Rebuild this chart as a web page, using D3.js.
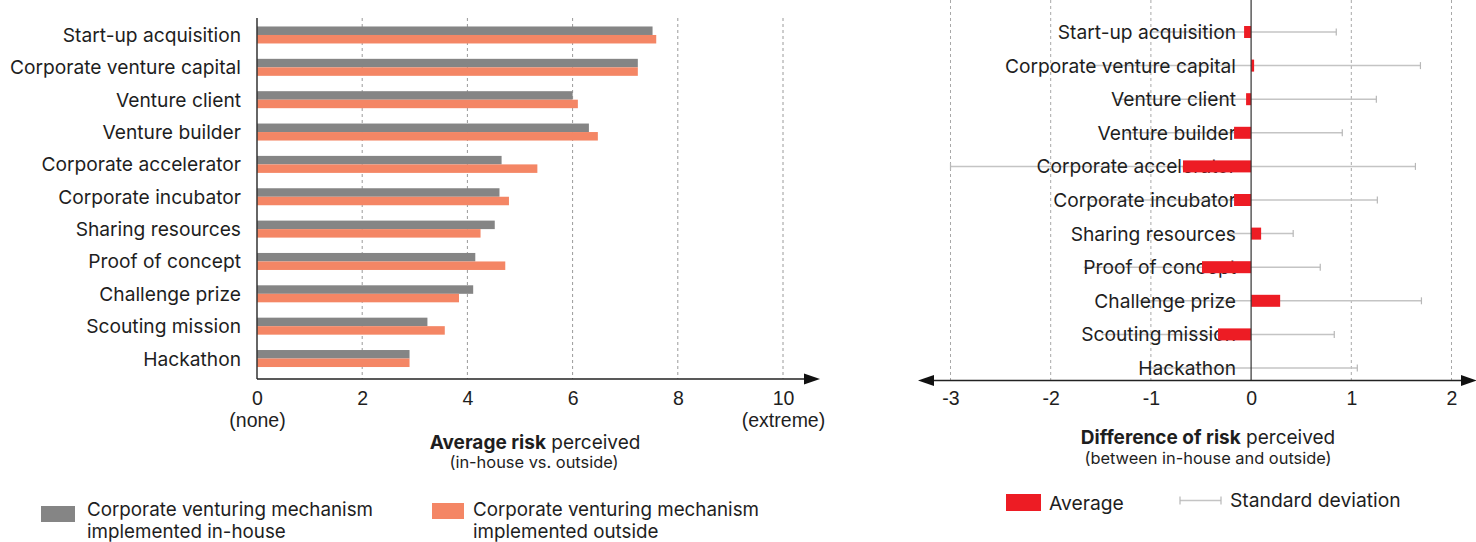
<!DOCTYPE html>
<html>
<head>
<meta charset="utf-8">
<script src="https://cdn.jsdelivr.net/npm/d3@7/dist/d3.min.js"></script>
<style>
  html, body { margin: 0; padding: 0; background: #fff; }
  svg { display: block; font-family: Inter, "Noto Sans", sans-serif; }
</style>
</head>
<body>
<svg id="chart" width="1476" height="542"></svg>
<script>
// ---------- DATA ----------
const categories = [
  "Start-up acquisition", "Corporate venture capital", "Venture client", "Venture builder",
  "Corporate accelerator", "Corporate incubator", "Sharing resources", "Proof of concept",
  "Challenge prize", "Scouting mission", "Hackathon"
];
const inHouse = [7.52, 7.24, 6.00, 6.31, 4.65, 4.61, 4.52, 4.15, 4.11, 3.24, 2.90];
const outside = [7.59, 7.24, 6.10, 6.48, 5.33, 4.79, 4.25, 4.72, 3.84, 3.57, 2.90];
const diffMean = [-0.07, 0.03, -0.05, -0.17, -0.68, -0.17, 0.10, -0.49, 0.29, -0.33, 0.00];
const diffSD = [0.92, 1.66, 1.30, 1.08, 2.32, 1.43, 0.32, 1.18, 1.41, 1.16, 1.06];
const leftTicks = [0, 2, 4, 6, 8, 10];
const leftTickSub = {0: "(none)", 10: "(extreme)"};
const rightTicks = [-3, -2, -1, 0, 1, 2];
const seriesNames = ["Corporate venturing mechanism|implemented in-house", "Corporate venturing mechanism|implemented outside"];
const diffLegend = ["Average", "Standard deviation"];

// ---------- STYLE ----------
const GRAY = "#858585", ORANGE = "#F48665", RED = "#ED1C24", TXT = "#1e1e1e";
const FS = 19.2, FT = 19.5, FLEG = 19.3, FTITLE = 19, FSUB = 16.4;
const svg = d3.select("#chart");

// ---------- LEFT CHART ----------
const xL = d3.scaleLinear().domain([0, 10]).range([257, 783]);
const yL = d3.scaleBand().domain(categories).range([18.8, 374.7]);
const barH = 8.5;
const axisYL = 379;

const gL = svg.append("g");
gL.selectAll("line.grid").data(leftTicks.filter(d => d > 0)).join("line")
  .attr("x1", d => xL(d)).attr("x2", d => xL(d))
  .attr("y1", 18).attr("y2", axisYL)
  .attr("stroke", "#9a9a9a").attr("stroke-width", 1).attr("stroke-dasharray", "3,3");

const rowsL = categories.map((c, i) => ({c, a: inHouse[i], b: outside[i]}));
gL.selectAll("rect.in").data(rowsL).join("rect")
  .attr("x", xL(0)).attr("y", d => yL(d.c) + yL.bandwidth() / 2 - barH)
  .attr("width", d => xL(d.a) - xL(0)).attr("height", barH)
  .attr("fill", GRAY);
gL.selectAll("rect.out").data(rowsL).join("rect")
  .attr("x", xL(0)).attr("y", d => yL(d.c) + yL.bandwidth() / 2)
  .attr("width", d => xL(d.b) - xL(0)).attr("height", barH)
  .attr("fill", ORANGE);

gL.append("line").attr("x1", xL(0)).attr("x2", xL(0)).attr("y1", 18).attr("y2", axisYL)
  .attr("stroke", "#333").attr("stroke-width", 1.5);

gL.selectAll("text.cat").data(categories).join("text")
  .attr("x", 241).attr("y", d => yL(d) + yL.bandwidth() / 2)
  .attr("text-anchor", "end").attr("dominant-baseline", "central")
  .attr("font-size", FS).attr("fill", TXT).text(d => d);

gL.append("line").attr("x1", xL(0)).attr("x2", 810).attr("y1", axisYL).attr("y2", axisYL)
  .attr("stroke", "#222").attr("stroke-width", 1.5);
gL.append("path").attr("d", `M804,${axisYL - 5.5} L820,${axisYL} L804,${axisYL + 5.5} Z`).attr("fill", "#111");

const axL = d3.axisBottom(xL).tickValues(leftTicks).tickSize(0).tickPadding(0).tickFormat(d3.format("d"));
const axLg = gL.append("g").attr("transform", `translate(0,${axisYL})`).call(axL);
axLg.select(".domain").remove();
axLg.selectAll("text").attr("font-size", FT).attr("fill", TXT).attr("font-family", null)
  .attr("dy", null).attr("y", 19).attr("dominant-baseline", "central");
axLg.selectAll(".tick").filter(d => leftTickSub[d]).append("text")
  .attr("y", 41).attr("text-anchor", "middle").attr("dominant-baseline", "central")
  .attr("font-size", FT).attr("fill", TXT).text(d => leftTickSub[d]);

const tL = gL.append("text").attr("x", 535).attr("y", 442).attr("text-anchor", "middle")
  .attr("dominant-baseline", "central").attr("font-size", FTITLE).attr("fill", TXT);
tL.append("tspan").attr("font-weight", 700).text("Average risk");
tL.append("tspan").text(" perceived");
gL.append("text").attr("x", 534).attr("y", 461.5).attr("text-anchor", "middle")
  .attr("dominant-baseline", "central").attr("font-size", FSUB).attr("fill", TXT).text("(in-house vs. outside)");

const legL = [{x: 41, y: 506, w: 34, h: 16, col: GRAY, tx: 87}, {x: 432, y: 503, w: 32, h: 16, col: ORANGE, tx: 473}];
legL.forEach((l, i) => {
  gL.append("rect").attr("x", l.x).attr("y", l.y).attr("width", l.w).attr("height", l.h).attr("fill", l.col);
  const lines = seriesNames[i].split("|");
  lines.forEach((s, j) => {
    gL.append("text").attr("x", l.tx).attr("y", 509 + j * 22.5).attr("dominant-baseline", "central")
      .attr("font-size", 18.8).attr("fill", TXT).text(s);
  });
});

// ---------- RIGHT CHART ----------
const xR = d3.scaleLinear().domain([-3, 2]).range([950.5, 1451.5]);
const yR = d3.scaleBand().domain(categories).range([15.2, 384.8]);
const axisYR = 380.5;
const rBarH = 12;
const gR = svg.append("g");

gR.selectAll("line.grid").data(rightTicks.filter(d => d !== 0)).join("line")
  .attr("x1", d => xR(d)).attr("x2", d => xR(d))
  .attr("y1", 0).attr("y2", axisYR)
  .attr("stroke", "#a8a8a8").attr("stroke-width", 1).attr("stroke-dasharray", "3,3");

const rowsR = categories.map((c, i) => ({c, m: diffMean[i], sd: diffSD[i]}));
const cy = d => yR(d.c) + yR.bandwidth() / 2;
gR.selectAll("line.sd").data(rowsR).join("line")
  .attr("x1", d => xR(d.m - d.sd)).attr("x2", d => xR(d.m + d.sd))
  .attr("y1", cy).attr("y2", cy).attr("stroke", "#c4c4c4").attr("stroke-width", 1.5);
gR.selectAll("line.capR").data(rowsR).join("line")
  .attr("x1", d => xR(d.m + d.sd)).attr("x2", d => xR(d.m + d.sd))
  .attr("y1", d => cy(d) - 3.5).attr("y2", d => cy(d) + 3.5).attr("stroke", "#b8b8b8").attr("stroke-width", 1.2);
gR.selectAll("line.capL").data(rowsR.filter(d => d.m - d.sd <= -2.9)).join("line")
  .attr("x1", d => xR(d.m - d.sd)).attr("x2", d => xR(d.m - d.sd))
  .attr("y1", d => cy(d) - 3.5).attr("y2", d => cy(d) + 3.5).attr("stroke", "#b8b8b8").attr("stroke-width", 1.2);

gR.selectAll("text.cat").data(categories).join("text")
  .attr("x", 1236).attr("y", d => yR(d) + yR.bandwidth() / 2)
  .attr("text-anchor", "end").attr("dominant-baseline", "central")
  .attr("font-size", FS).attr("fill", TXT).text(d => d);

gR.selectAll("rect.mean").data(rowsR).join("rect")
  .attr("x", d => Math.min(xR(0), xR(d.m))).attr("y", d => cy(d) - rBarH / 2)
  .attr("width", d => Math.abs(xR(d.m) - xR(0))).attr("height", rBarH)
  .attr("fill", RED);

gR.append("line").attr("x1", xR(0)).attr("x2", xR(0)).attr("y1", 0).attr("y2", axisYR)
  .attr("stroke", "#333").attr("stroke-width", 1.2);

gR.append("line").attr("x1", 928).attr("x2", 1468).attr("y1", axisYR).attr("y2", axisYR)
  .attr("stroke", "#222").attr("stroke-width", 1.5);
gR.append("path").attr("d", `M934,${axisYR - 5.5} L918,${axisYR} L934,${axisYR + 5.5} Z`).attr("fill", "#111");
gR.append("path").attr("d", `M1461,${axisYR - 5.5} L1477,${axisYR} L1461,${axisYR + 5.5} Z`).attr("fill", "#111");

const axR = d3.axisBottom(xR).tickValues(rightTicks).tickSize(0).tickPadding(0).tickFormat(d3.format("d"));
const axRg = gR.append("g").attr("transform", `translate(0,${axisYR})`).call(axR);
axRg.select(".domain").remove();
axRg.selectAll("text").attr("font-size", FT).attr("fill", TXT).attr("font-family", null)
  .attr("dy", null).attr("y", 17).attr("dominant-baseline", "central")
  .text(d => d < 0 ? "-" + Math.abs(d) : d);

const tR = gR.append("text").attr("x", 1208).attr("y", 437).attr("text-anchor", "middle")
  .attr("dominant-baseline", "central").attr("font-size", FTITLE).attr("fill", TXT);
tR.append("tspan").attr("font-weight", 700).text("Difference of risk");
tR.append("tspan").text(" perceived");
gR.append("text").attr("x", 1208).attr("y", 457.5).attr("text-anchor", "middle")
  .attr("dominant-baseline", "central").attr("font-size", FSUB).attr("fill", TXT).text("(between in-house and outside)");

gR.append("rect").attr("x", 1006).attr("y", 494).attr("width", 35).attr("height", 17).attr("fill", RED);
gR.append("text").attr("x", 1049).attr("y", 503).attr("dominant-baseline", "central")
  .attr("font-size", FLEG).attr("fill", TXT).text(diffLegend[0]);
gR.append("line").attr("x1", 1180).attr("x2", 1221).attr("y1", 500.5).attr("y2", 500.5).attr("stroke", "#c4c4c4").attr("stroke-width", 1.5);
[1180, 1221].forEach(x => gR.append("line").attr("x1", x).attr("x2", x).attr("y1", 496.5).attr("y2", 504.5)
  .attr("stroke", "#b8b8b8").attr("stroke-width", 1.2));
gR.append("text").attr("x", 1230).attr("y", 500).attr("dominant-baseline", "central")
  .attr("font-size", FLEG).attr("fill", TXT).text(diffLegend[1]);
</script>
</body>
</html>
